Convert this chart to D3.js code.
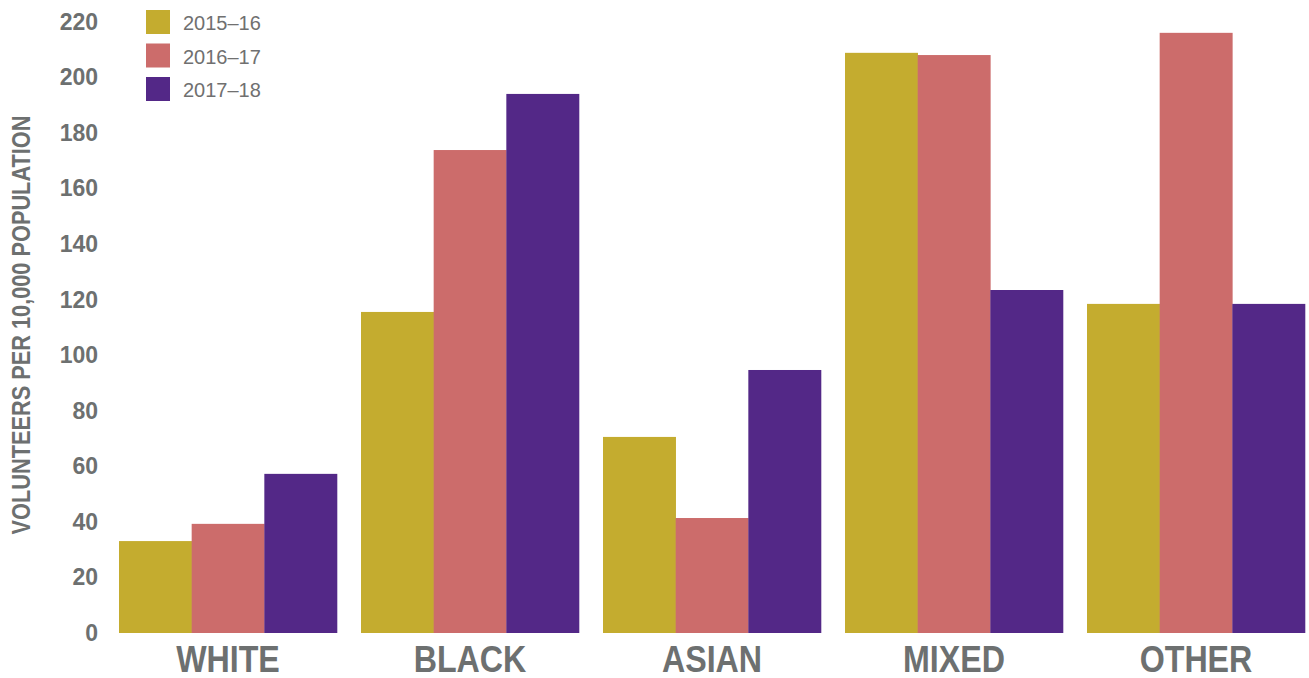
<!DOCTYPE html>
<html>
<head>
<meta charset="utf-8">
<script src="https://cdn.jsdelivr.net/npm/d3@7"></script>
<style>
  html, body { margin: 0; padding: 0; background: #ffffff; }
  svg { display: block; }
</style>
</head>
<body>
<svg id="chart" width="1309" height="678"></svg>
<script>
const categories = ["WHITE", "BLACK", "ASIAN", "MIXED", "OTHER"];
const seriesNames = ["2015–16", "2016–17", "2017–18"];
const values2015 = [33.1, 115.6, 70.6, 208.9, 118.5];
const values2016 = [39.3, 173.9, 41.4, 208.1, 216.1];
const values2017 = [57.3, 194.1, 94.7, 123.5, 118.5];
const yTicks = [0, 20, 40, 60, 80, 100, 120, 140, 160, 180, 200, 220];
const yTitle = "VOLUNTEERS PER 10,000 POPULATION";

const colors = ["#c4ac2f", "#cc6c6b", "#532887"];
const textGray = "#6d7070";
const seriesValues = [values2015, values2016, values2017];

const svg = d3.select("#chart");

const x0 = d3.scaleBand().domain(categories).range([119, 1305]).paddingInner(24 / 242).paddingOuter(0);
const x1 = d3.scaleBand().domain(seriesNames).range([0, x0.bandwidth()]).padding(0);
const y = d3.scaleLinear().domain([0, 220]).range([633, 22]);

// bars
const groups = svg.append("g").selectAll("g")
  .data(categories)
  .join("g")
  .attr("transform", d => `translate(${x0(d)},0)`);

groups.selectAll("rect")
  .data((c, ci) => seriesNames.map((s, si) => ({ s, si, v: seriesValues[si][ci] })))
  .join("rect")
  .attr("x", d => x1(d.s))
  .attr("width", x1.bandwidth() + 0.3)
  .attr("y", d => y(d.v))
  .attr("height", d => y(0) - y(d.v))
  .attr("fill", d => colors[d.si]);

// y axis
const yAxis = d3.axisLeft(y).tickValues(yTicks).tickSize(0).tickPadding(0).tickFormat(d3.format("d"));
const ya = svg.append("g").attr("transform", "translate(98,-1)").call(yAxis);
ya.select(".domain").remove();
ya.selectAll("text")
  .attr("fill", textGray)
  .attr("dy", "0.36em")
  .style("font-family", "'Liberation Sans', Arial, sans-serif")
  .style("font-weight", "bold")
  .style("font-size", "23px");

// category labels
svg.append("g").selectAll("text")
  .data(categories)
  .join("text")
  .attr("transform", d => `translate(${x0(d) + x0.bandwidth() / 2},672) scale(0.87,1)`)
  .attr("text-anchor", "middle")
  .attr("fill", textGray)
  .style("font-family", "'Liberation Sans', Arial, sans-serif")
  .style("font-weight", "bold")
  .style("font-size", "37px")
  .text(d => d);

// y title
svg.append("text")
  .attr("transform", "translate(30,325) rotate(-90) scale(0.87,1)")
  .attr("text-anchor", "middle")
  .attr("fill", textGray)
  .style("font-family", "'Liberation Sans', Arial, sans-serif")
  .style("font-weight", "bold")
  .style("font-size", "25px")
  .text(yTitle);

// legend
const legend = svg.append("g").selectAll("g")
  .data(seriesNames)
  .join("g")
  .attr("transform", (d, i) => `translate(146,${10 + i * 33.5})`);
legend.append("rect")
  .attr("width", 24).attr("height", 24)
  .attr("fill", (d, i) => colors[i]);
legend.append("text")
  .attr("x", 37).attr("y", 20)
  .attr("fill", "#707070")
  .style("font-family", "'Liberation Sans', Arial, sans-serif")
  .style("font-size", "20px")
  .text(d => d);
</script>
</body>
</html>
